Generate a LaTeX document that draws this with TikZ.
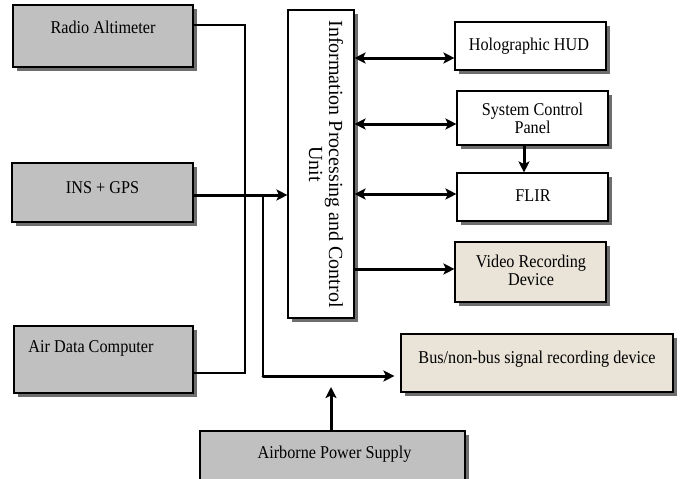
\documentclass[tikz,border=0pt]{standalone}
\usepackage{fontspec}
\setmainfont{Liberation Serif}
\usetikzlibrary{shadows,arrows.meta}
\definecolor{boxgray}{RGB}{192,192,192}
\definecolor{beige}{RGB}{233,227,216}
\definecolor{shadowgray}{RGB}{110,110,110}
\tikzset{
  box/.style={draw=black, line width=1.1pt, inner sep=0pt,
    drop shadow={shadow xshift=3.5pt, shadow yshift=-3.5pt, fill=shadowgray, opacity=1}},
  gbox/.style={box, fill=boxgray},
  wbox/.style={box, fill=white},
  bbox/.style={box, fill=beige},
  txt/.style={font=\fontsize{18}{18}\selectfont, align=center, inner sep=0pt, xscale=0.9, transform shape},
  vtxt/.style={font=\fontsize{20}{20}\selectfont, align=center, inner sep=0pt, rotate=-90},
  thinl/.style={line width=1.2pt},
  bold/.style={line width=3pt},
  arr/.style={bold, -{Stealth[length=11pt, width=11pt, inset=2.5pt]}},
  darr/.style={bold, {Stealth[length=11pt, width=11pt, inset=2.5pt]}-{Stealth[length=11pt, width=11pt, inset=2.5pt]}},
}
\begin{document}
\begin{tikzpicture}[x=1pt, y=-1pt]
\path[use as bounding box, clip] (0,0) rectangle (680,479);

% boxes
\node[gbox, minimum width=180pt, minimum height=62pt] (ra)  at (103,36) {};
\node[gbox, minimum width=181pt, minimum height=59pt] (ins) at (102.5,192.5) {};
\node[gbox, minimum width=179pt, minimum height=67pt] (adc) at (103.5,359.5) {};
\node[wbox, minimum width=66pt,  minimum height=308pt] (ipcu) at (321,164) {};
\node[wbox, minimum width=151pt, minimum height=48pt] (hud) at (530.5,46) {};
\node[wbox, minimum width=151pt, minimum height=54pt] (scp) at (532.5,118) {};
\node[wbox, minimum width=151pt, minimum height=48pt] (flir) at (532.5,197) {};
\node[bbox, minimum width=151pt, minimum height=60pt] (vrd) at (530.5,272) {};
\node[bbox, minimum width=272pt, minimum height=58pt] (bus) at (537,363) {};
\node[gbox, minimum width=265pt, minimum height=60pt] (aps) at (332.5,461) {};

% texts
\node[txt, anchor=base] (ra-t)  at (103,34) {Radio Altimeter};
\node[txt, anchor=base] (ins-t) at (102.5,193) {INS + GPS};
\node[txt, anchor=base] (adc-t) at (91,352) {Air Data Computer};
\node[vtxt] (ipcu-t) at (326,164) {Information Processing and Control\\Unit};
\node[txt, anchor=base] (hud-t) at (529,50) {Holographic HUD};
\node[txt] (scp-t) at (532.5,118) {System Control\\Panel};
\node[txt, anchor=base] (flir-t) at (533,201) {FLIR};
\node[txt] (vrd-t) at (531,270) {Video Recording\\Device};
\node[txt, anchor=base] (bus-t) at (537,363) {Bus/non-bus signal recording device};
\node[txt, anchor=base] (aps-t) at (334.5,458) {Airborne Power Supply};

% junction coordinates
\coordinate (b1) at (245,25);
\coordinate (b2) at (245,373);
\coordinate (j)  at (263,195);
\coordinate (k)  at (263,376);
\coordinate (pw) at (331,387);
\coordinate (h1) at ([yshift=-12pt]hud.west);
\coordinate (s2) at ([yshift=-6pt]scp.west);
\coordinate (f1) at ([yshift=3pt]flir.west);
\coordinate (v1) at ([yshift=3pt]vrd.west);
\coordinate (s1) at ([xshift=-8.5pt]scp.south);

% connectors
\draw[thinl] (ra.east |- b1) -- (b1) -- (b2) -- (adc.east |- b2);
\draw[arr] (ins.east |- j) -- (ipcu.west |- j);
\draw[thinl] (j) -- (k);
\draw[arr, line cap=round] (k) -- ([xshift=-6pt]bus.west |- k);
\draw[arr] (aps.north -| pw) -- (pw);
\draw[darr] (ipcu.east |- h1) -- (h1);
\draw[darr] (ipcu.east |- s2) -- (s2);
\draw[darr] (ipcu.east |- f1) -- (f1);
\draw[arr] (ipcu.east |- v1) -- (v1);
\draw[arr] (s1) -- (s1 |- flir.north);
\end{tikzpicture}
\end{document}
